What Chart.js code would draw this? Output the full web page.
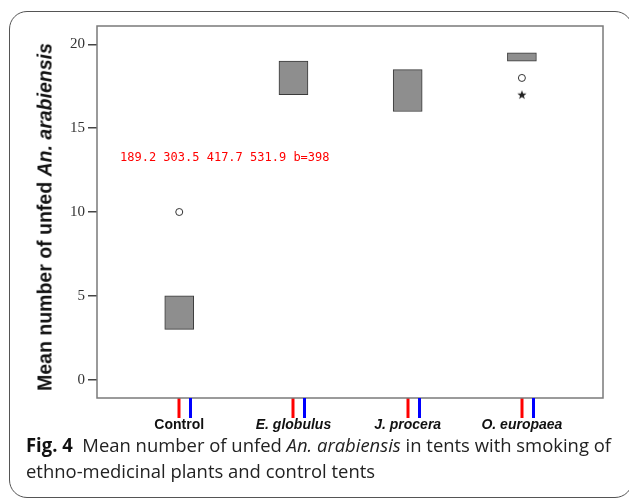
<!DOCTYPE html>
<html>
<head>
<meta charset="utf-8">
<script src="https://cdn.jsdelivr.net/npm/chart.js@4.4.0/dist/chart.umd.min.js"></script>
<style>
html,body{margin:0;padding:0;background:#fff;width:629px;height:502px;overflow:hidden;}
#frame{position:absolute;left:9px;top:11px;width:624px;height:487px;border:1.5px solid #555;border-radius:18px;box-sizing:border-box;}
#chart{position:absolute;left:0;top:0;}
#ytitle{position:absolute;left:45px;top:217px;transform:translate(-50%,-50%) rotate(-90deg);white-space:nowrap;font:bold 19.5px "Liberation Sans",Arial,sans-serif;color:#111;}
#caption{position:absolute;left:26px;top:432px;font:19px "Open Sans",sans-serif;color:#222;line-height:26px;transform-origin:0 0;white-space:nowrap;}
#caption b{color:#111;}
.xtick{position:absolute;width:3px;height:20px;background:blue;}
#dbg{position:absolute;left:120px;top:150px;font:12px monospace;color:red;}
</style>
</head>
<body>
<div id="frame"></div>
<canvas id="chart" width="629" height="502"></canvas>
<div id="ytitle">Mean number of unfed <i>An. arabiensis</i></div>
<div id="caption"><span id="line1"><b>Fig. 4</b>&nbsp; Mean number of unfed <i>An. arabiensis</i> in tents with smoking of</span><br>ethno-medicinal plants and control tents</div>
<div id="dbg"></div>
<script>
const categories = ['Control','E. globulus','J. procera','O. europaea'];
const whiskerLow  = [1, 15, 15, 19];
const q1          = [3, 17, 16, 19];
const median      = [3, 18, 17, 19];
const q3          = [5, 19, 18.5, 19.5];
const whiskerHigh = [8, 20, 19, 20];
const outlierGroup = [0, 3];
const outlierValue = [10, 18];
const extremeGroup = [3];
const extremeValue = [17];
const yTicks = [0, 5, 10, 15, 20];

const starImg = document.createElement('canvas');
starImg.width = 10; starImg.height = 10;
(function(){
  const c = starImg.getContext('2d');
  c.fillStyle = '#222';
  c.beginPath();
  for(let k=0;k<10;k++){
    const r = k%2 ? 2 : 4.8;
    const a = -Math.PI/2 + k*Math.PI/5;
    c.lineTo(5 + r*Math.cos(a), 5.3 + r*Math.sin(a));
  }
  c.closePath(); c.fill();
})();

const boxParts = {
  id:'boxParts',
  afterDraw(chart){
    const {ctx, chartArea:a, scales:{x}} = chart;
    ctx.save();
    ctx.strokeStyle='red'; ctx.lineWidth=3;
    categories.forEach((name,i)=>{
      const px = Math.round(x.getPixelForValue(i));
      ctx.beginPath(); ctx.moveTo(px, a.bottom); ctx.lineTo(px, a.bottom + 20); ctx.stroke();
    });
    ctx.strokeStyle='#7a7a7a'; ctx.lineWidth=1.5;
    ctx.strokeRect(a.left, a.top, a.right-a.left, a.bottom-a.top);
    ctx.restore();
  }
};

const chart = new Chart(document.getElementById('chart'), {
  type:'bar',
  data:{
    datasets:[
      { type:'bar', data: categories.map((name,i)=>({x:i, y:[q1[i], q3[i]]})),
        backgroundColor:'#8e8e8e', borderColor:'#3a3a3a', borderWidth:1, borderSkipped:false,
        barThickness:29, grouped:false },
      { type:'scatter', data: outlierGroup.map((g,i)=>({x:g, y:outlierValue[i]})),
        pointStyle:'circle', pointRadius:3.5, backgroundColor:'#fff', borderColor:'#333', borderWidth:1 },
      { type:'scatter', data: extremeGroup.map((g,i)=>({x:g, y:extremeValue[i]})),
        pointStyle: starImg, pointRadius:5 }
    ]
  },
  options:{
    responsive:false, animation:false,
    layout:{ padding:{ top:26, right:26, left:0, bottom:0 } },
    plugins:{ legend:{display:false}, tooltip:{enabled:false} },
    scales:{
      x:{
        type:'linear', min:-0.72, max:3.71, offset:false,
        afterBuildTicks: s=>{ s.ticks = categories.map((name,i)=>({value:i})); },
        afterFit: s=>{ s.height = 104; },
        border:{display:false},
        grid:{ display:false, drawTicks:false },
        ticks:{
          padding:19, color:'#111', maxRotation:0, autoSkip:false,
          callback: v=> categories[v],
          font: c=>({ family:'"Liberation Sans", Arial, sans-serif', size:14, weight:'bold', style: c.index===0 ? 'normal' : 'italic' })
        }
      },
      y:{
        min:-1.1, max:21.1,
        afterBuildTicks: s=>{ s.ticks = yTicks.map(v=>({value:v})); },
        afterFit: s=>{ s.width = 97; },
        border:{display:false},
        grid:{ drawOnChartArea:false, drawTicks:true, tickLength:9, color:'#444', lineWidth:1.5 },
        ticks:{ padding:3, color:'#333', font:{ family:'"Liberation Serif", "Times New Roman", serif', size:15 } }
      }
    }
  },
  plugins:[boxParts]
});

const info = [];
categories.forEach((name,i)=>{
  const t = document.createElement('div');
  t.className = 'xtick';
  const left = chart.scales.x.getPixelForValue(i) + 10;
  t.style.left = left + 'px';
  t.style.top = chart.chartArea.bottom + 'px';
  info.push(left.toFixed(1));
  document.body.appendChild(t);
});
info.push('b=' + chart.chartArea.bottom);
document.getElementById('dbg').textContent = info.join(' ');

const caption = document.getElementById('caption');
const lineW = document.getElementById('line1').getBoundingClientRect().width;
caption.style.transform = 'scaleX(' + (585 / lineW) + ')';
</script>
</body>
</html>
